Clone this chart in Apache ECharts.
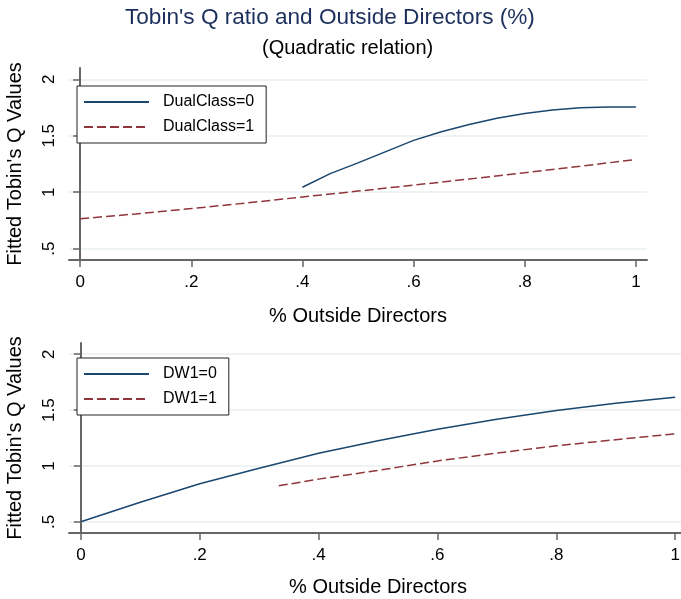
<!DOCTYPE html>
<html>
<head>
<meta charset="utf-8">
<script src="https://cdn.jsdelivr.net/npm/echarts@6/dist/echarts.min.js"></script>
<style>html,body{margin:0;padding:0;background:#fff}#c{width:681px;height:599px}</style>
</head>
<body>
<div id="c"></div>
<script>
// ---- data ----
const xTicks = [0, 0.2, 0.4, 0.6, 0.8, 1];
const yTicks = [0.5, 1, 1.5, 2];

const dual0X = [0.4, 0.45, 0.5, 0.55, 0.6, 0.65, 0.7, 0.75, 0.8, 0.85, 0.9, 0.95, 1.0];
const dual0Y = [1.044, 1.165, 1.26, 1.36, 1.459, 1.535, 1.60, 1.655, 1.697, 1.728, 1.748, 1.755, 1.754];

const dual1X = [0, 0.1, 0.2, 0.3, 0.4, 0.5, 0.6, 0.7, 0.8, 0.9, 1.0];
const dual1Y = [0.765, 0.808, 0.855, 0.905, 0.958, 1.01, 1.063, 1.117, 1.173, 1.23, 1.29];

const dw0X = [0, 0.1, 0.2, 0.3, 0.4, 0.5, 0.6, 0.7, 0.8, 0.9, 1.0];
const dw0Y = [0.50, 0.675, 0.84, 0.98, 1.113, 1.225, 1.328, 1.418, 1.497, 1.56, 1.615];

const dw1X = [0.333, 0.4, 0.5, 0.6, 0.7, 0.8, 0.9, 1.0];
const dw1Y = [0.822, 0.882, 0.96, 1.045, 1.115, 1.18, 1.235, 1.287];

const titleText = "Tobin's Q ratio and Outside Directors (%)";
const subtitleText = "(Quadratic relation)";
const xName = "% Outside Directors";
const yName = "Fitted Tobin's Q Values";

// ---- helpers ----
const zip = (xs, ys) => xs.map((x, i) => [x, ys[i]]);
const fmt = v => { const s = String(+v.toFixed(4)); return s.replace(/^0\./, '.'); };
const NAVY = '#1a476f', MAROON = '#90353b', AXIS = '#666666', GRID = '#e8eff1';
const FONT = '"Liberation Sans", Arial, sans-serif';

function xAxis(gridIndex, gap) {
  return {
    type: 'value', gridIndex, min: -0.02, max: 1.02,
    name: xName, nameLocation: 'middle', nameGap: gap,
    nameTextStyle: { fontSize: 20, color: '#000', fontFamily: FONT },
    axisLine: { show: true, lineStyle: { color: AXIS, width: 2 } },
    axisTick: { show: true, length: 7, lineStyle: { color: AXIS, width: 1.5 }, customValues: xTicks },
    axisLabel: { customValues: xTicks, formatter: fmt, fontSize: 17, color: '#000', margin: 14, fontFamily: FONT },
    splitLine: { show: false }
  };
}
function yAxis(gridIndex) {
  return {
    type: 'value', gridIndex, min: 0.4, max: 2.1,
    name: yName, nameLocation: 'middle', nameGap: 44, nameRotate: 90,
    nameTextStyle: { fontSize: 20, color: '#000', fontFamily: FONT },
    axisLine: { show: true, lineStyle: { color: AXIS, width: 2 } },
    axisTick: { show: true, length: 7, lineStyle: { color: AXIS, width: 1.5 }, customValues: yTicks },
    axisLabel: { customValues: yTicks, formatter: fmt, fontSize: 17, color: '#000', margin: 11, rotate: 90, fontFamily: FONT },
    splitLine: { show: true, lineStyle: { color: GRID, width: 1.5 } }
  };
}
function legend(top, names) {
  return {
    orient: 'vertical', left: 77, top: top,
    data: names, itemWidth: 65, itemHeight: 14, itemGap: 9,
    padding: [8, 12, 8, 6],
    borderColor: '#222', borderWidth: 1, backgroundColor: '#fff',
    itemStyle: { opacity: 0 },
    textStyle: { fontSize: 16, color: '#000', fontFamily: FONT, padding: [0, 0, 0, 9] }
  };
}
function line(name, data, xi, yi, color, dashed) {
  return {
    name, type: 'line', data, xAxisIndex: xi, yAxisIndex: yi,
    symbol: 'none', smooth: false, animation: false,
    lineStyle: { color, width: 1.5, type: dashed ? [9, 4] : 'solid' },
    itemStyle: { color }
  };
}

const chart = echarts.init(document.getElementById('c'), null, { renderer: 'canvas' });
chart.setOption({
  backgroundColor: '#fff',
  animation: false,
  textStyle: { fontFamily: FONT },
  title: [
    { text: titleText, left: 125, top: 6, padding: 0,
      textStyle: { fontSize: 22.6, fontWeight: 'normal', color: '#1c2f5c', fontFamily: FONT } },
    { text: subtitleText, left: 262, top: 38, padding: 0,
      textStyle: { fontSize: 20, fontWeight: 'normal', color: '#000', fontFamily: FONT } }
  ],
  legend: [
    legend(86, ['DualClass=0', 'DualClass=1']),
    legend(358, ['DW1=0', 'DW1=1'])
  ],
  grid: [
    { left: 69, top: 68, width: 578, height: 192, containLabel: false, outerBoundsMode: 'none' },
    { left: 69, top: 343, width: 618, height: 190, containLabel: false, outerBoundsMode: 'none' }
  ],
  xAxis: [xAxis(0, 46), xAxis(1, 44)],
  yAxis: [yAxis(0), yAxis(1)],
  series: [
    line('DualClass=0', zip(dual0X, dual0Y), 0, 0, NAVY, false),
    line('DualClass=1', zip(dual1X, dual1Y), 0, 0, MAROON, true),
    line('DW1=0', zip(dw0X, dw0Y), 1, 1, NAVY, false),
    line('DW1=1', zip(dw1X, dw1Y), 1, 1, MAROON, true)
  ]
});
</script>
</body>
</html>
